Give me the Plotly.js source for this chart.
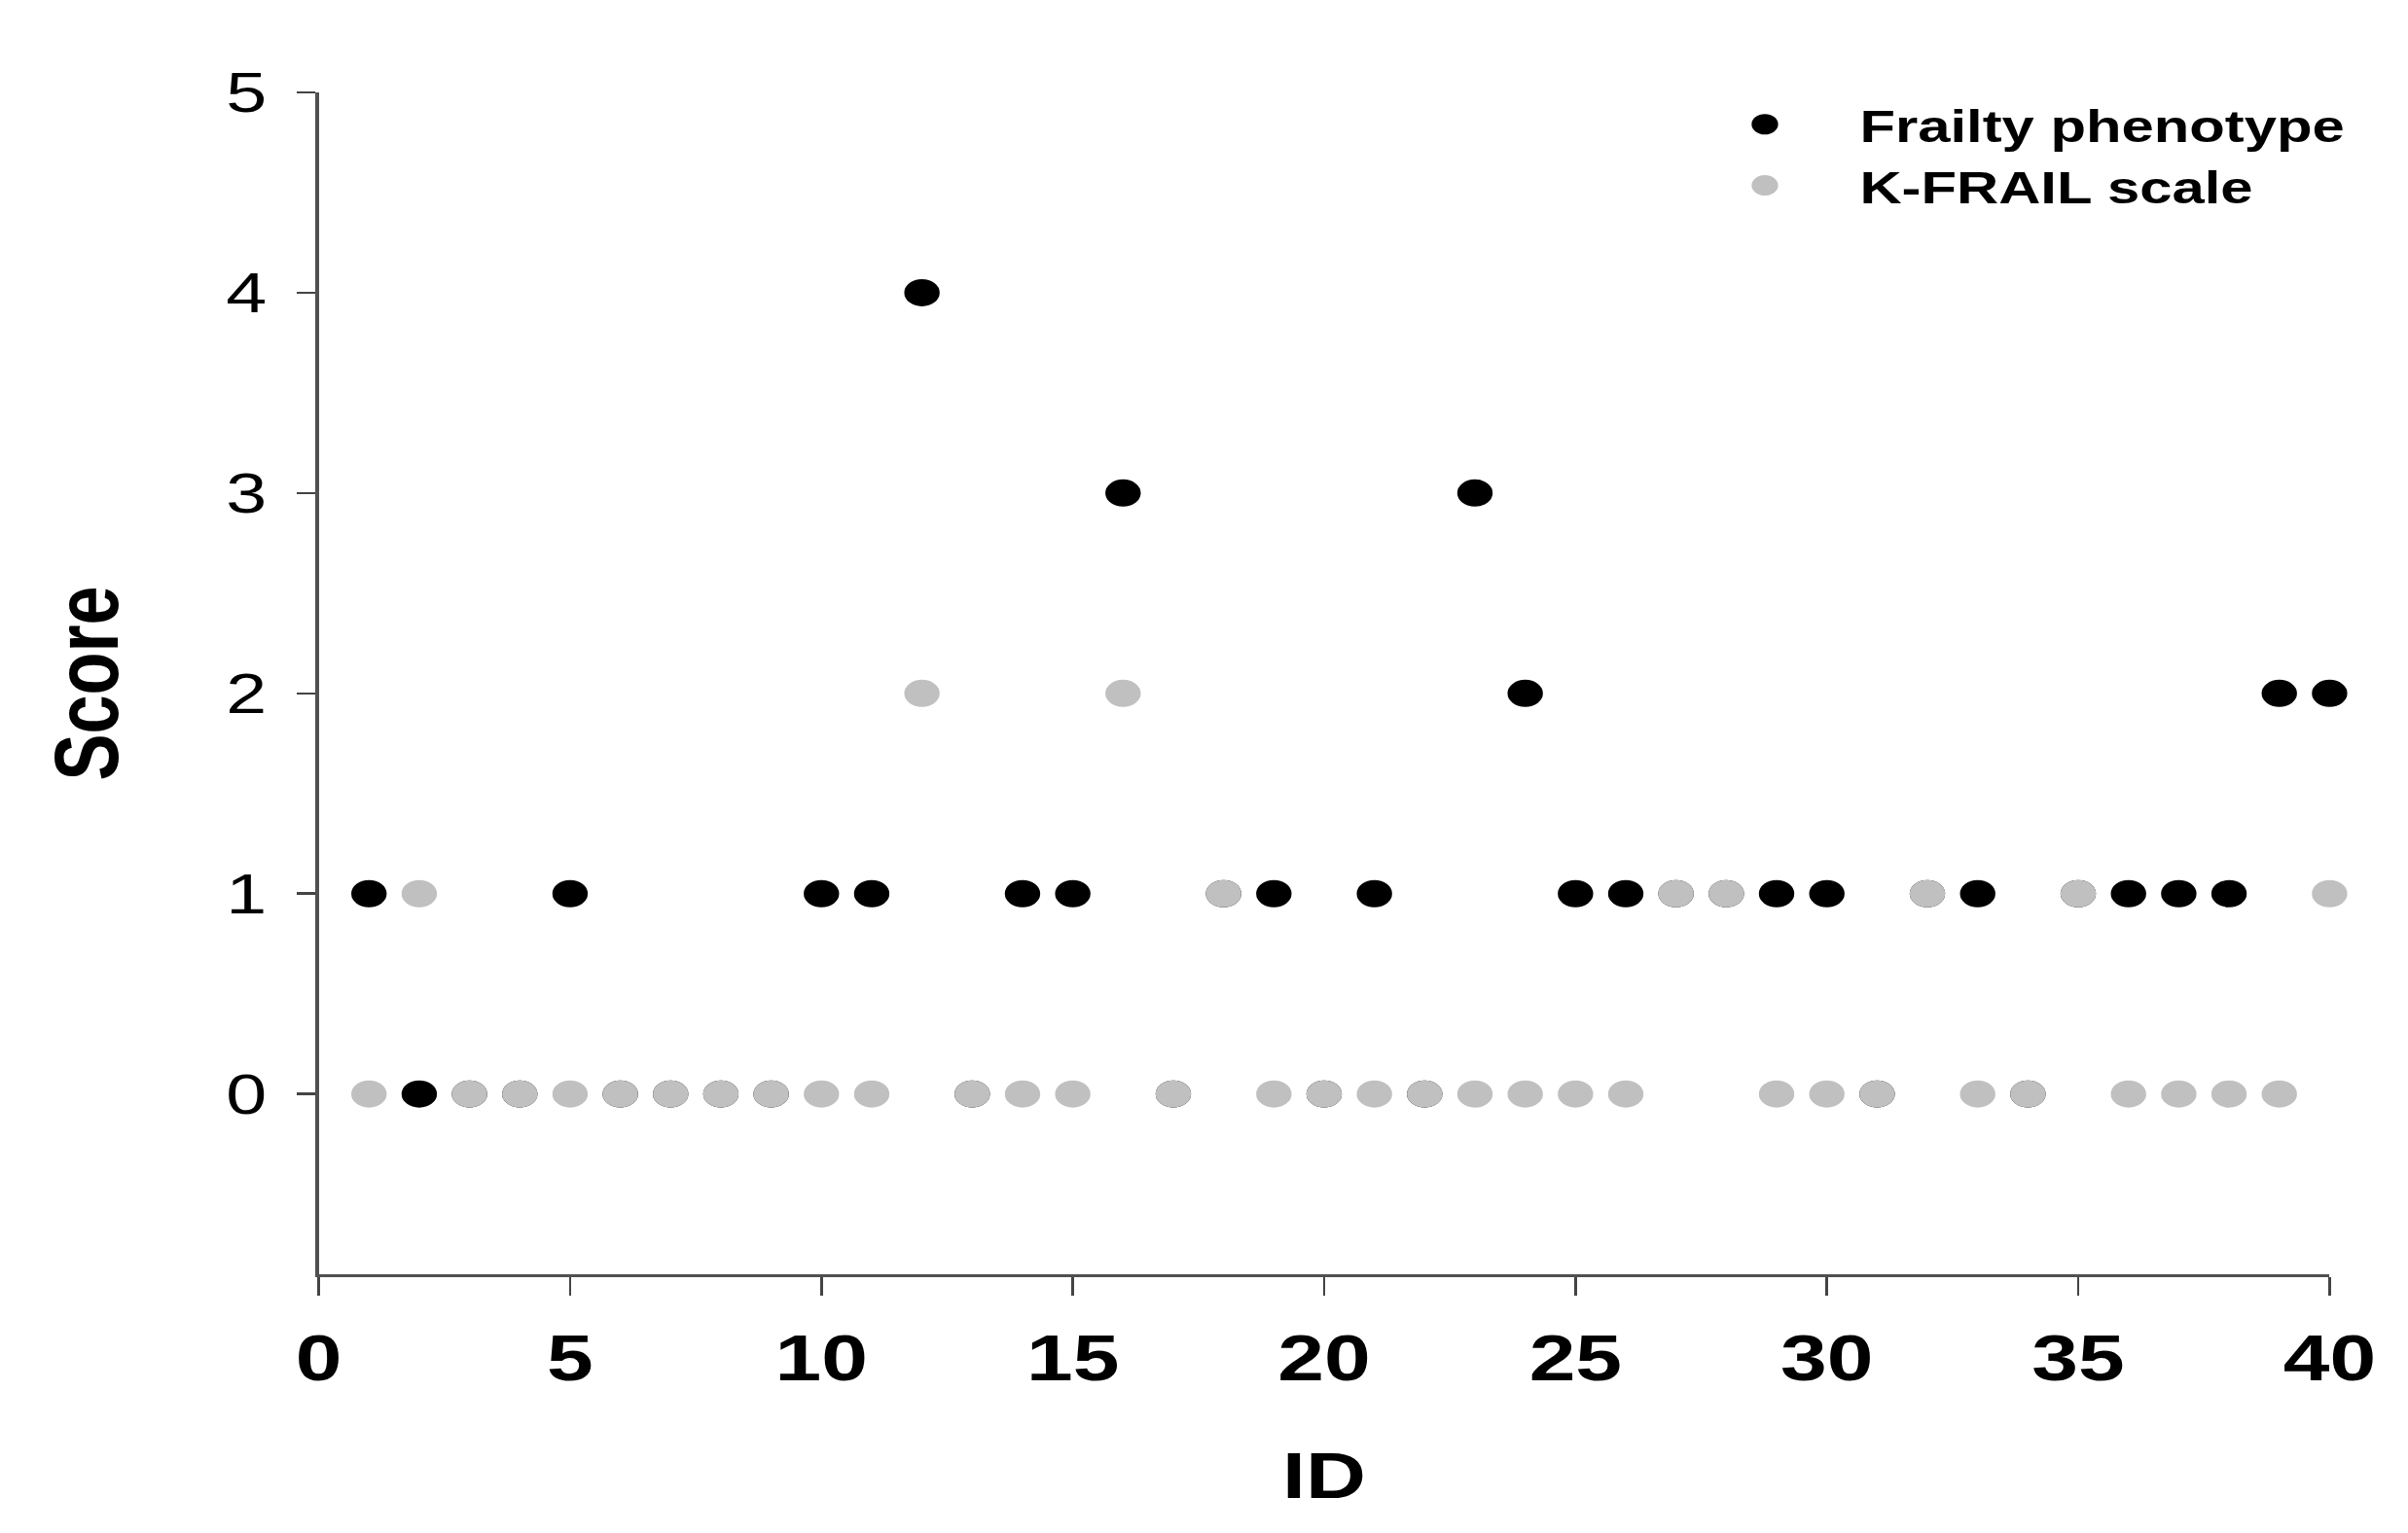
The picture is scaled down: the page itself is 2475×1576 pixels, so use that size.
<!DOCTYPE html>
<html>
<head>
<meta charset="utf-8">
<script src="https://cdn.plot.ly/plotly-3.0.1.min.js"></script>
<style>
  html, body { margin: 0; padding: 0; background: #ffffff; overflow: hidden; }
  #chart { width: 1904px; height: 1576px; transform: scale(1.29989, 1); transform-origin: 0 0; }
</style>
</head>
<body>
<div id="chart"></div>
<script>
// Data
const ids = [1,2,3,4,5,6,7,8,9,10,11,12,13,14,15,16,17,18,19,20,21,22,23,24,25,26,27,28,29,30,31,32,33,34,35,36,37,38,39,40];
const frailtyPhenotype = [1,0,0,0,1,0,0,0,0,1,1,4,0,1,1,3,0,1,1,0,1,0,3,2,1,1,1,1,1,1,0,1,1,0,1,1,1,1,2,2];
const kFrailScale = [0,1,0,0,0,0,0,0,0,0,0,2,0,0,0,2,0,1,0,0,0,0,0,0,0,0,1,1,0,0,0,1,0,0,1,0,0,0,0,1];
const seriesNames = ['Frailty phenotype', 'K-FRAIL scale'];
const xTicks = [0,5,10,15,20,25,30,35,40];
const yTicks = [0,1,2,3,4,5];

const FONT = '"Liberation Sans", Arial, sans-serif';

const traces = [
  {
    x: ids, y: frailtyPhenotype, name: seriesNames[0],
    type: 'scatter', mode: 'markers', cliponaxis: false,
    marker: { color: '#000000', size: 23, line: { color: '#000000', width: 5 } }
  },
  {
    x: ids, y: kFrailScale, name: seriesNames[1],
    type: 'scatter', mode: 'markers', cliponaxis: false,
    marker: { color: '#c0c0c0', size: 23, line: { color: '#c0c0c0', width: 5 } }
  }
];

const layout = {
  width: 1904, height: 1576,
  margin: { l: 252, r: 62, t: 95, b: 266, autoexpand: false },
  paper_bgcolor: '#ffffff', plot_bgcolor: '#ffffff',
  showlegend: true,
  legend: {
    x: 0.672, xanchor: 'left', y: 1.003, yanchor: 'top',
    bgcolor: 'rgba(0,0,0,0)', borderwidth: 0,
    itemwidth: 140, tracegroupgap: 0,
    font: { family: FONT, size: 46, color: '#000000', weight: 'bold' }
  },
  xaxis: {
    range: [0, 40], tickvals: xTicks, ticktext: xTicks.map(String),
    showgrid: false, zeroline: false, showline: true,
    linecolor: '#505050', linewidth: 3,
    ticks: 'outside', ticklen: 19, tickwidth: 2, tickcolor: '#444444',
    tickfont: { family: FONT, size: 66, color: '#000000', weight: 'bold' },
    ticklabelstandoff: 8,
    title: { text: 'ID', font: { family: FONT, size: 66, color: '#000000', weight: 'bold' }, standoff: 62 },
    automargin: false
  },
  yaxis: {
    range: [-0.9, 5], tickvals: yTicks, ticktext: yTicks.map(String),
    showgrid: false, zeroline: false, showline: true,
    linecolor: '#505050', linewidth: 2.4,
    ticks: 'outside', ticklen: 15, tickwidth: 2.5, tickcolor: '#444444',
    tickfont: { family: FONT, size: 58, color: '#000000' },
    ticklabelstandoff: 12,
    title: { text: 'Score', font: { family: FONT, size: 72, color: '#000000', weight: 'bold' }, standoff: 62 },
    automargin: false
  }
};

Plotly.newPlot('chart', traces, layout, { staticPlot: true, displayModeBar: false });
</script>
</body>
</html>
